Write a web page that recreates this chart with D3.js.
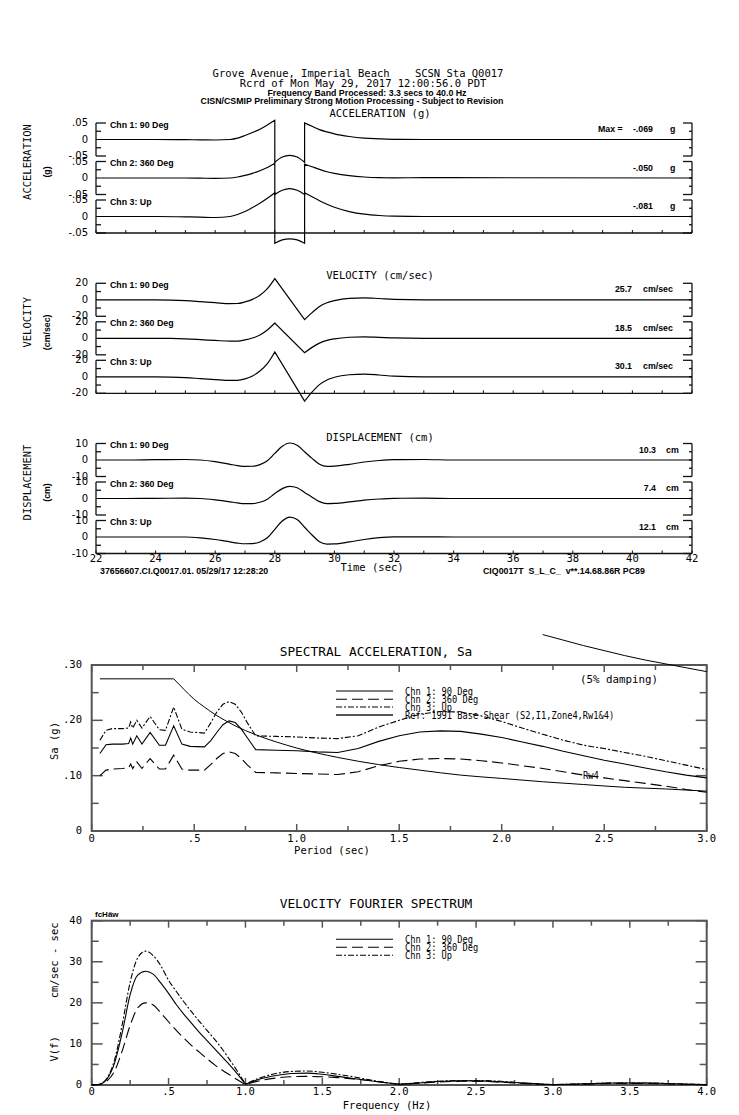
<!DOCTYPE html>
<html><head><meta charset="utf-8">
<script src="https://cdn.jsdelivr.net/npm/d3@7"></script>
<style>body{margin:0;background:#fff}text{white-space:pre}</style>
</head><body>
<script>
// ---------------- DATA ----------------
const headerLines = [
  "Grove Avenue, Imperial Beach    SCSN Sta Q0017",
  "Rcrd of Mon May 29, 2017 12:00:56.0 PDT",
  "Frequency Band Processed: 3.3 secs to 40.0 Hz",
  "CISN/CSMIP Preliminary Strong Motion Processing - Subject to Revision"
];
const channelNames = ["Chn 1: 90 Deg", "Chn 2: 360 Deg", "Chn 3: Up"];
const timeTicks = [22,23,24,25,26,27,28,29,30,31,32,33,34,35,36,37,38,39,40,41,42];
const timeLabels = [22,24,26,28,30,32,34,36,38,40,42];

const accTime = [22,24,25,25.5,26,26.5,26.75,27,27.25,27.5,27.75,28,28,28.25,28.5,28.75,29,29,29.25,29.5,29.75,30,30.5,31,31.5,32,33,42];
const acc1 = [0,0,-0.0005,-0.001,-0.0015,0.0,0.004,0.012,0.021,0.031,0.044,0.058,-0.069,-0.053,-0.048,-0.053,-0.069,0.050,0.040,0.030,0.023,0.017,0.009,0.004,0.002,0.0005,0,0];
const acc2 = [0,0,0,-0.0005,-0.001,0.0,0.003,0.008,0.014,0.022,0.032,0.045,-0.050,-0.037,-0.032,-0.037,-0.050,0.042,0.034,0.026,0.019,0.014,0.007,0.003,0.001,0.0005,0.001,0];
const acc3 = [0,0,-0.001,-0.002,-0.003,0.0,0.006,0.015,0.027,0.040,0.055,0.072,-0.081,-0.071,-0.068,-0.071,-0.081,0.072,0.060,0.048,0.037,0.028,0.015,0.007,0.003,0.001,0,0];

const velTime = [22,24,24.5,25,25.5,26,26.5,26.75,27,27.25,27.5,27.75,28,29,29.25,29.5,29.75,30,30.5,31,31.5,32,33,42];
const vel1 = [0,0,-0.3,-1.0,-2.2,-3.5,-4.6,-4.5,-2.5,0.5,5.5,13.5,25.7,-24.0,-15.5,-8.0,-3.5,-1.0,1.8,2.4,1.6,0.5,0,0];
const vel2 = [0,0,-0.2,-0.7,-1.6,-2.6,-3.5,-3.4,-2.0,0.3,4.0,10.0,18.5,-17.5,-11.0,-5.8,-2.6,-0.7,1.3,1.8,1.2,0.4,0,0];
const vel3 = [0,0,-0.3,-1.0,-2.2,-3.4,-4.4,-4.3,-2.5,1.0,7.0,16.0,30.1,-29.5,-18.5,-9.5,-3.8,-0.6,2.5,3.3,2.2,0.7,0,0];

const dispTime = [22,23,24,25,25.5,26,26.5,26.75,27,27.25,27.5,27.75,28,28.25,28.5,28.75,29,29.25,29.5,29.75,30,30.5,31,31.5,32,33,34,42];
const disp1 = [0,0,0.2,0.3,0,-1.0,-2.6,-3.4,-3.9,-3.8,-2.8,-0.4,4.0,8.3,10.3,9.0,5.0,1.0,-2.6,-3.9,-3.7,-2.6,-1.2,-0.3,0.2,0.3,0,0];
const disp2 = [0,0,0.1,0.2,0,-0.8,-2.0,-2.7,-3.1,-3.1,-2.3,-0.4,3.0,6.0,7.4,6.5,3.7,0.8,-1.9,-3.1,-3.0,-2.1,-1.0,-0.3,0.1,0.2,0,0];
const disp3 = [0,0,0,0,-0.5,-1.5,-3.0,-3.7,-4.1,-4.0,-3.0,-0.5,4.6,9.7,12.1,10.6,5.9,1.2,-2.9,-4.3,-4.2,-3.0,-1.5,-0.4,0.1,0.1,0,0];

const accMax = ["-.069","-.050","-.081"];
const velMax = ["25.7","18.5","30.1"];
const dispMax = ["10.3","7.4","12.1"];

const saPeriod = [0.04,0.07,0.10,0.15,0.18,0.19,0.20,0.22,0.245,0.285,0.33,0.36,0.40,0.44,0.48,0.55,0.58,0.61,0.64,0.67,0.70,0.73,0.76,0.80,0.90,1.00,1.10,1.20,1.30,1.40,1.50,1.60,1.70,1.80,1.90,2.00,2.10,2.20,2.30,2.40,2.50,2.60,2.70,2.80,2.90,3.00];
const sa1 = [0.140,0.156,0.157,0.157,0.158,0.168,0.157,0.172,0.157,0.178,0.155,0.155,0.190,0.157,0.153,0.152,0.163,0.178,0.192,0.199,0.196,0.184,0.168,0.147,0.146,0.145,0.143,0.142,0.149,0.162,0.172,0.179,0.181,0.180,0.175,0.169,0.161,0.153,0.144,0.136,0.128,0.121,0.114,0.107,0.101,0.096];
const sa2 = [0.100,0.110,0.112,0.113,0.114,0.121,0.113,0.125,0.113,0.131,0.112,0.112,0.137,0.112,0.110,0.110,0.120,0.131,0.140,0.143,0.140,0.131,0.119,0.106,0.105,0.104,0.103,0.102,0.107,0.118,0.126,0.130,0.131,0.130,0.127,0.123,0.118,0.113,0.107,0.101,0.096,0.091,0.086,0.081,0.075,0.070];
const sa3 = [0.164,0.182,0.185,0.185,0.186,0.197,0.186,0.200,0.186,0.207,0.183,0.182,0.224,0.184,0.179,0.177,0.195,0.215,0.229,0.234,0.229,0.215,0.195,0.172,0.171,0.170,0.168,0.167,0.172,0.188,0.200,0.211,0.216,0.215,0.208,0.198,0.186,0.175,0.164,0.155,0.149,0.142,0.135,0.127,0.119,0.111];
const refPeriod = [0.04,0.40,0.45,0.50,0.55,0.60,0.65,0.70,0.80,0.90,1.00,1.20,1.40,1.60,1.80,2.00,2.20,2.40,2.60,2.80,3.00];
const refRw4 = [0.275,0.275,0.256,0.238,0.224,0.211,0.200,0.190,0.174,0.161,0.150,0.133,0.120,0.110,0.101,0.095,0.089,0.084,0.079,0.076,0.072];
const rw1Period = [2.2,2.3,2.4,2.5,2.6,2.7,2.8,2.9,3.0];
const refRw1 = [0.355,0.345,0.335,0.326,0.317,0.309,0.302,0.295,0.288];
const saYTicks = [0,0.1,0.2,0.3], saYLabels = ["0",".10",".20",".30"];
const saXTicks = [0,0.5,1,1.5,2,2.5,3], saXLabels = ["0",".5","1.0","1.5","2.0","2.5","3.0"];
const saLegend = ["Chn 1: 90 Deg","Chn 2: 360 Deg","Chn 3: Up","Ref: 1991 Base Shear (S2,I1,Zone4,Rw1&4)"];

const fasFreq = [0,0.05,0.1,0.15,0.2,0.25,0.3,0.35,0.4,0.45,0.5,0.55,0.6,0.65,0.7,0.75,0.8,0.85,0.9,0.95,1.0,1.1,1.2,1.3,1.4,1.5,1.6,1.7,1.8,1.9,2.0,2.1,2.2,2.3,2.4,2.5,2.6,2.7,2.8,2.9,3.0,3.2,3.4,3.6,3.8,4.0];
const fas1 = [0,0.2,1.5,5.5,13.0,22.0,26.8,27.7,27.0,24.8,22.3,19.6,17.2,15.0,12.8,10.8,8.8,6.8,4.8,2.6,0.2,1.5,2.3,2.8,2.9,2.6,2.1,1.6,1.1,0.6,0.2,0.4,0.7,0.9,1.0,1.0,0.9,0.7,0.5,0.3,0.1,0.3,0.5,0.5,0.3,0.1];
const fas2 = [0,0.1,1.0,3.5,8.5,14.5,18.8,20.0,19.5,17.5,15.4,13.3,11.4,9.6,8.0,6.4,4.9,3.6,2.4,1.2,0.1,1.1,1.7,2.0,2.1,2.0,1.8,1.5,1.1,0.6,0.2,0.4,0.6,0.8,0.9,0.9,0.8,0.6,0.4,0.2,0.1,0.2,0.4,0.4,0.2,0.05];
const fas3 = [0,0.2,1.7,6.3,15.0,25.0,31.0,32.6,31.5,29.0,25.5,22.8,20.2,17.8,15.5,13.3,11.1,8.7,6.0,3.2,0.2,1.8,2.8,3.3,3.4,3.1,2.6,2.0,1.3,0.7,0.2,0.5,0.8,1.0,1.1,1.1,1.0,0.8,0.5,0.3,0.1,0.3,0.5,0.5,0.3,0.1];
const fasYTicks = [0,10,20,30,40], fasYLabels = ["0","10","20","30","40"];
const fasXTicks = [0,0.5,1,1.5,2,2.5,3,3.5,4], fasXLabels = ["0",".5","1.0","1.5","2.0","2.5","3.0","3.5","4.0"];

// ---------------- DRAW ----------------
const svg = d3.select("body").append("svg").attr("width",739).attr("height",1115);
const MONO = "'DejaVu Sans Mono', monospace", SB = "'Liberation Sans', Arial, sans-serif", SANS = "'DejaVu Sans', sans-serif";
function T(s, x, y, o = {}) {
  let tr = `translate(${x},${y})`;
  if (o.rot) tr += ` rotate(${o.rot})`;
  if (o.sx) tr += ` scale(${o.sx},1)`;
  return svg.append("text").text(s).attr("transform", tr)
    .attr("font-family", o.family || MONO).attr("font-size", o.size || 10.5)
    .attr("font-weight", o.weight || "normal").attr("text-anchor", o.anchor || "start")
    .attr("dominant-baseline", o.base || "auto").attr("fill", "#000");
}
function L(x1,y1,x2,y2,w=1.3,c="#111"){ svg.append("line").attr("x1",x1).attr("y1",y1).attr("x2",x2).attr("y2",y2).attr("stroke",c).attr("stroke-width",w); }
function splitPath(xs, ys, corners, xS, yS, curve) {
  const segs = []; let cur = [];
  for (let i = 0; i < xs.length; i++) {
    cur.push([xs[i], ys[i]]);
    if (corners.includes(xs[i]) && i < xs.length - 1) {
      if (xs[i+1] === xs[i]) { segs.push(cur); cur = []; }
      else if (cur.length > 1) { segs.push(cur); cur = [[xs[i], ys[i]]]; }
    }
  }
  if (cur.length) segs.push(cur);
  const line = d3.line().x(d => xS(d[0])).y(d => yS(d[1])).curve(curve);
  return segs.map((s, k) => { const p = line(s); return k ? "L" + p.slice(1) : p; }).join("");
}

// header
T(headerLines[0], 358, 77, {anchor:"middle", size:10.5});
T(headerLines[1], 363, 87, {anchor:"middle", size:10.5});
T(headerLines[2], 367, 96, {anchor:"middle", size:8.8, family:SB, weight:"bold"});
T(headerLines[3], 352, 104, {anchor:"middle", size:8.8, family:SB, weight:"bold"});

// time-series panels
const tx = d3.scaleLinear().domain([22,42]).range([96,692]);
const panels = [
  {top:123, titleY:117, title:"ACCELERATION (g)", label:"ACCELERATION", unit:"(g)", time:accTime, series:[acc1,acc2,acc3], full:0.05, tl:[".05","0","-.05"], max:accMax, mu:"g", valEnd:653, unitX:670, corners:[28,29]},
  {top:283.3, titleY:279, title:"VELOCITY (cm/sec)", label:"VELOCITY", unit:"(cm/sec)", time:velTime, series:[vel1,vel2,vel3], full:20, tl:["20","0","-20"], max:velMax, mu:"cm/sec", valEnd:632, unitX:643, corners:[28,29]},
  {top:443.5, titleY:441, title:"DISPLACEMENT (cm)", label:"DISPLACEMENT", unit:"(cm)", time:dispTime, series:[disp1,disp2,disp3], full:10, tl:["10","0","-10"], max:dispMax, mu:"cm", valEnd:656, unitX:666, corners:[]}
];
const STEP = 38.5, HGT = 33;
panels.forEach(p => {
  T(p.title, 380, p.titleY, {anchor:"middle", size:10.5});
  T(p.label, 31, p.top + 39, {rot:-90, anchor:"middle", size:10.5});
  T(p.unit, 50, p.top + 49, {rot:-90, anchor:"middle", size:8.8, family:SB, weight:"bold"});
  for (let k = 0; k < 3; k++) {
    const y0 = p.top + k*STEP, y1 = y0 + HGT;
    const ys = d3.scaleLinear().domain([-p.full, p.full]).range([y1, y0]);
    // left bracket
    L(tx(22), y0, tx(22), y1);
    [[p.full,10],[p.full/2,5],[-p.full/2,5],[-p.full,10]].forEach(([v,len]) => L(tx(22), ys(v), tx(22)+len, ys(v)));
    // right bracket
    L(tx(42), y0, tx(42), y1);
    [[p.full,9],[p.full/2,3],[0,3],[-p.full/2,3],[-p.full,9]].forEach(([v,len]) => L(tx(42), ys(v), tx(42)-len, ys(v)));
    // left labels
    [p.full, 0, -p.full].forEach((v,i) => T(p.tl[i], 88, ys(v), {anchor:"end", size:10, family:SANS, base:"middle"}));
    // channel label
    T(channelNames[k], 110, y0 + 4.5, {size:8.8, family:SB, weight:"bold"});
    // max label
    if (k === 0 && p.mu === "g") T("Max =", 598, y0 + 9, {size:8.8, family:SB, weight:"bold"});
    T(p.max[k], p.valEnd, y0 + 9, {anchor:"end", size:8.8, family:SB, weight:"bold"});
    T(p.mu, p.unitX, y0 + 9, {size:8.8, family:SB, weight:"bold"});
    // trace
    const d = splitPath(p.time, p.series[k], p.corners, tx, ys, d3.curveMonotoneX);
    svg.append("path").attr("d", d).attr("fill","none").attr("stroke","#000").attr("stroke-width",1.2);
  }
  // time axis
  const yb = p.top + 2*STEP + HGT;
  L(tx(22), yb, tx(42), yb);
  timeTicks.forEach(t => L(tx(t), yb, tx(t), yb - 3, 1));
});
// time labels
const ybot = panels[2].top + 2*STEP + HGT;
timeLabels.forEach(t => T(String(t), tx(t), ybot + 8, {anchor:"middle", size:10.5}));
T("Time (sec)", 372, ybot + 17, {anchor:"middle", size:10.5});
T("37656607.CI.Q0017.01. 05/29/17 12:28:20", 100, ybot + 20, {size:8.8, family:SB, weight:"bold"});
T("CIQ0017T  S_L_C_  v**.14.68.86R PC89", 483, ybot + 20, {size:8.8, family:SB, weight:"bold"});

// generic spectrum panel frame
function frame(xS, yS, xMinor, yMinor, xMajor, yMajor) {
  const [x0,x1] = xS.range(), [yb,yt] = yS.range();
  xMinor.forEach(v => { const len = xMajor.includes(v) ? 7 : 5; L(xS(v), yb, xS(v), yb-len, 1.5, "#555"); L(xS(v), yt, xS(v), yt+len, 1.5, "#555"); });
  yMinor.forEach(v => { const len = yMajor.includes(v) ? 11 : 7; L(x0, yS(v), x0+len, yS(v), 1.5, "#555"); L(x1, yS(v), x1-len, yS(v), 1.5, "#555"); });
  svg.append("rect").attr("x",x0).attr("y",yt).attr("width",x1-x0).attr("height",yb-yt).attr("fill","none").attr("stroke","#555").attr("stroke-width",2);
}
const dashes = [null, "11,5", "6,2,2,2"];

// ---- Spectral acceleration
const sx = d3.scaleLinear().domain([0,3]).range([91.7,706.7]);
const sy = d3.scaleLinear().domain([0,0.3]).range([831,665]);
frame(sx, sy, d3.range(0,3.01,0.25).map(v=>+v.toFixed(2)), d3.range(0,0.301,0.05).map(v=>+v.toFixed(2)), saXTicks, saYTicks);
T("SPECTRAL ACCELERATION, Sa", 376, 656, {anchor:"middle", size:12.8});
saYTicks.forEach((v,i) => T(saYLabels[i], 82, sy(v), {anchor:"end", size:10.5, base:"middle"}));
saXTicks.forEach((v,i) => T(saXLabels[i], sx(v), 842, {anchor:"middle", size:10.5}));
T("Period (sec)", 332, 854, {anchor:"middle", size:10.5});
T("Sa (g)", 58, 741, {rot:-90, anchor:"middle", size:10.5});
T("(5% damping)", 580, 683, {size:10.8});
const lineLin = (xs, ys, xS, yS) => d3.line().x((d,i)=>xS(xs[i])).y(d=>yS(d))(ys);
svg.append("path").attr("d", splitPath(refPeriod, refRw4, [0.40], sx, sy, d3.curveMonotoneX)).attr("fill","none").attr("stroke","#000").attr("stroke-width",1);
svg.append("path").attr("d", splitPath(rw1Period, refRw1, [], sx, sy, d3.curveMonotoneX)).attr("fill","none").attr("stroke","#000").attr("stroke-width",1);
[sa1,sa2,sa3].forEach((s,k) => {
  svg.append("path").attr("d", lineLin(saPeriod, s, sx, sy)).attr("fill","none").attr("stroke","#000").attr("stroke-width",1.1).attr("stroke-dasharray", dashes[k]);
});
T("Rw4", 583, 779, {size:10, sx:0.87});
const legY = [691, 699.3, 707, 715];
saLegend.forEach((s,k) => {
  if (k < 3) L(336, legY[k], 393, legY[k], 1.1, "#000"); else L(336, legY[k], 393, legY[k], 2, "#555");
  if (k < 3 && dashes[k]) svg.select("line:last-of-type").attr("stroke-dasharray", dashes[k]);
  T(s, 405, legY[k] + 3.5, {size:10, sx:0.87});
});

// ---- Velocity Fourier spectrum
const fx = d3.scaleLinear().domain([0,4]).range([91.7,706.7]);
const fy = d3.scaleLinear().domain([0,40]).range([1085,920.7]);
frame(fx, fy, d3.range(0,4.01,0.25).map(v=>+v.toFixed(2)), d3.range(0,40.1,5), fasXTicks, fasYTicks);
T("VELOCITY FOURIER SPECTRUM", 376, 908, {anchor:"middle", size:12.8});
fasYTicks.forEach((v,i) => T(fasYLabels[i], 82, fy(v), {anchor:"end", size:10.5, base:"middle"}));
fasXTicks.forEach((v,i) => T(fasXLabels[i], fx(v), 1095, {anchor:"middle", size:10.5}));
T("Frequency (Hz)", 387, 1109, {anchor:"middle", size:10.5});
T("V(f)      cm/sec - sec", 58, 992, {rot:-90, anchor:"middle", size:10.5});
T("fcHäw", 95, 917, {size:8, family:SB, weight:"bold"});
[fas1,fas2,fas3].forEach((s,k) => {
  svg.append("path").attr("d", splitPath(fasFreq, s, [1.0,2.0,3.0], fx, fy, d3.curveMonotoneX)).attr("fill","none").attr("stroke","#000").attr("stroke-width",1.1).attr("stroke-dasharray", dashes[k]);
});
const fLegY = [939.3, 947.3, 955.3];
channelNames.forEach((s,k) => {
  const ln = svg.append("line").attr("x1",336).attr("y1",fLegY[k]).attr("x2",393).attr("y2",fLegY[k]).attr("stroke","#000").attr("stroke-width",1.1);
  if (dashes[k]) ln.attr("stroke-dasharray", dashes[k]);
  T(s, 405, fLegY[k] + 3.5, {size:10, sx:0.87});
});
</script>
</body></html>
